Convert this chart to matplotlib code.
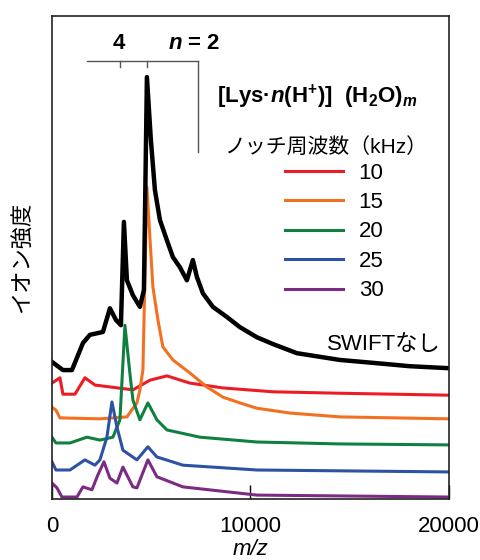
"""Mass spectra of Lys ions for several SWIFT notch frequencies."""
import matplotlib
matplotlib.use("Agg")
import matplotlib.pyplot as plt

plt.rcParams['font.family'] = ['Liberation Sans', 'Noto Sans CJK JP']
plt.rcParams['mathtext.fontset'] = 'custom'
plt.rcParams['mathtext.rm'] = 'Liberation Sans'
plt.rcParams['mathtext.it'] = 'Liberation Sans:italic'
plt.rcParams['mathtext.bf'] = 'Liberation Sans:bold'
plt.rcParams['mathtext.bfit'] = 'Liberation Sans:bold:italic'

# spectra (m/z, displayed intensity incl. vertical offset)
mz_none = [0, 554, 1008, 1562, 1914, 2569, 2922, 3224, 3476, 3627, 3778, 4081, 4433,
           4635, 4786, 4987, 5189, 5441, 5793, 6096, 6448, 6801, 7103, 7305, 7607,
           8111, 8816, 9471, 10328, 11134, 12343, 14509, 16171, 18035, 19950]
int_none = [28.4, 26.7, 26.7, 32.3, 34.0, 34.6, 39.5, 37.1, 36.0, 57.4, 45.3, 42.2, 39.8,
            43.3, 87.4, 74.3, 64.0, 57.8, 53.6, 50.1, 48.0, 45.3, 49.5, 46.0, 42.6,
            39.8, 37.7, 35.6, 33.5, 32.1, 30.2, 28.8, 28.2, 27.5, 27.1]

mz_10 = [0, 403, 554, 1159, 1662, 2166, 4081, 4937, 5793, 6952, 8615, 11134, 14509, 20000]
int_10 = [24.0, 25.1, 21.7, 21.7, 25.1, 23.6, 22.6, 24.6, 25.5, 24.0, 23.0, 22.2, 21.9, 21.5]

mz_15 = [0, 202, 403, 2418, 3778, 4282, 4433, 4584, 4786, 4937, 5088, 5340, 5592,
         6096, 6952, 7809, 8615, 9471, 10328, 11990, 14509, 20000]
int_15 = [19.0, 18.4, 16.8, 16.6, 17.0, 19.9, 22.6, 26.7, 64.6, 54.2, 43.9, 37.1, 31.5,
          28.8, 26.1, 23.2, 21.1, 19.9, 18.8, 17.8, 17.0, 16.6]

mz_20 = [0, 202, 907, 1763, 2418, 3073, 3426, 3678, 3929, 4081, 4433, 4836, 5290,
         5793, 7456, 10328, 14509, 20000]
int_20 = [12.8, 11.6, 11.6, 12.8, 12.2, 12.8, 16.4, 36.0, 26.0, 20.5, 16.4, 19.9, 16.4,
          14.3, 12.8, 11.8, 11.4, 11.2]

mz_25 = [0, 202, 907, 1662, 2166, 2418, 2771, 3023, 3275, 3577, 4282, 4836, 5290,
         6600, 10328, 20000]
int_25 = [7.7, 6.0, 6.0, 8.1, 7.0, 8.1, 12.8, 20.1, 14.9, 10.1, 8.1, 10.8, 8.7,
          7.0, 6.0, 5.6]

mz_30 = [0, 252, 504, 1259, 1562, 2015, 2317, 2620, 2922, 3275, 3577, 4081, 4282,
         4836, 5290, 6600, 10328, 20000]
int_30 = [3.3, 2.3, 0.4, 0.4, 2.5, 1.9, 5.0, 7.7, 4.3, 3.3, 6.6, 2.5, 2.3,
          8.1, 4.6, 2.5, 0.8, 0.4]

notch_labels = ['10', '15', '20', '25', '30']
colors = ['#ed1c24', '#f37021', '#0f8040', '#2e52a3', '#7b2b84']

# ion series marks: n = 4, n = 2
n_positions = [3426, 4786]

fig = plt.figure(figsize=(4.81, 5.60), dpi=100)
ax = fig.add_axes([0.108, 0.109, 0.825, 0.862])

series = [(mz_10, int_10), (mz_15, int_15), (mz_20, int_20), (mz_25, int_25), (mz_30, int_30)]
handles = []
for (mz, inten), c, lab in zip(series, colors, notch_labels):
    h, = ax.plot(mz, inten, color=c, lw=2.2, label=lab)
    handles.append(h)
ax.plot(mz_none, int_none, color='black', lw=3.2)

ax.set_xlim(0, 20000)
ax.set_ylim(0, 100)
ax.set_xticks([0, 10000, 20000])
ax.set_xticklabels(['0', '10000', '20000'])
ax.tick_params(axis='x', direction='in', length=10, width=1, labelsize=16, pad=12)
ax.set_yticks([])
for sp in ax.spines.values():
    sp.set_linewidth(1.2)
    sp.set_color('#222222')

ax.set_xlabel('m/z', fontsize=16, style='italic', labelpad=2)
ax.set_ylabel('イオン強度', fontsize=16, labelpad=14)

# bracket for the cluster series
ax.plot([1763, 7355], [90.7, 90.7], color='#555555', lw=1)
for p in n_positions:
    ax.plot([p, p], [90.7, 89.4], color='#555555', lw=1)
ax.plot([7355, 7355], [90.7, 71.8], color='#555555', lw=1)
ax.text(3350, 94.3, '4', fontsize=16, fontweight='bold', ha='center', va='center')
ax.text(5850, 94.3, r'$\mathbfit{n}$ = 2', fontsize=16, fontweight='bold',
        ha='left', va='center')

ax.text(8300, 83.4,
        r'[Lys·$\mathbfit{n}$(H$^{\mathbf{+}}$)]  (H$_{\mathbf{2}}$O)$_{\mathbfit{m}}$',
        fontsize=16, fontweight='bold', ha='left', va='center')
ax.text(13800, 73.0, 'ノッチ周波数（kHz）', fontsize=15, ha='center', va='center')

ax.legend(handles=handles, loc='upper left', bbox_to_anchor=(0.56, 0.72),
          frameon=False, fontsize=16, handlelength=2.6, handletextpad=0.7,
          labelspacing=0.38, borderpad=0)

ax.text(19600, 32.0, 'SWIFTなし', fontsize=16, ha='right', va='center')

fig.savefig('out.png', dpi=100)
